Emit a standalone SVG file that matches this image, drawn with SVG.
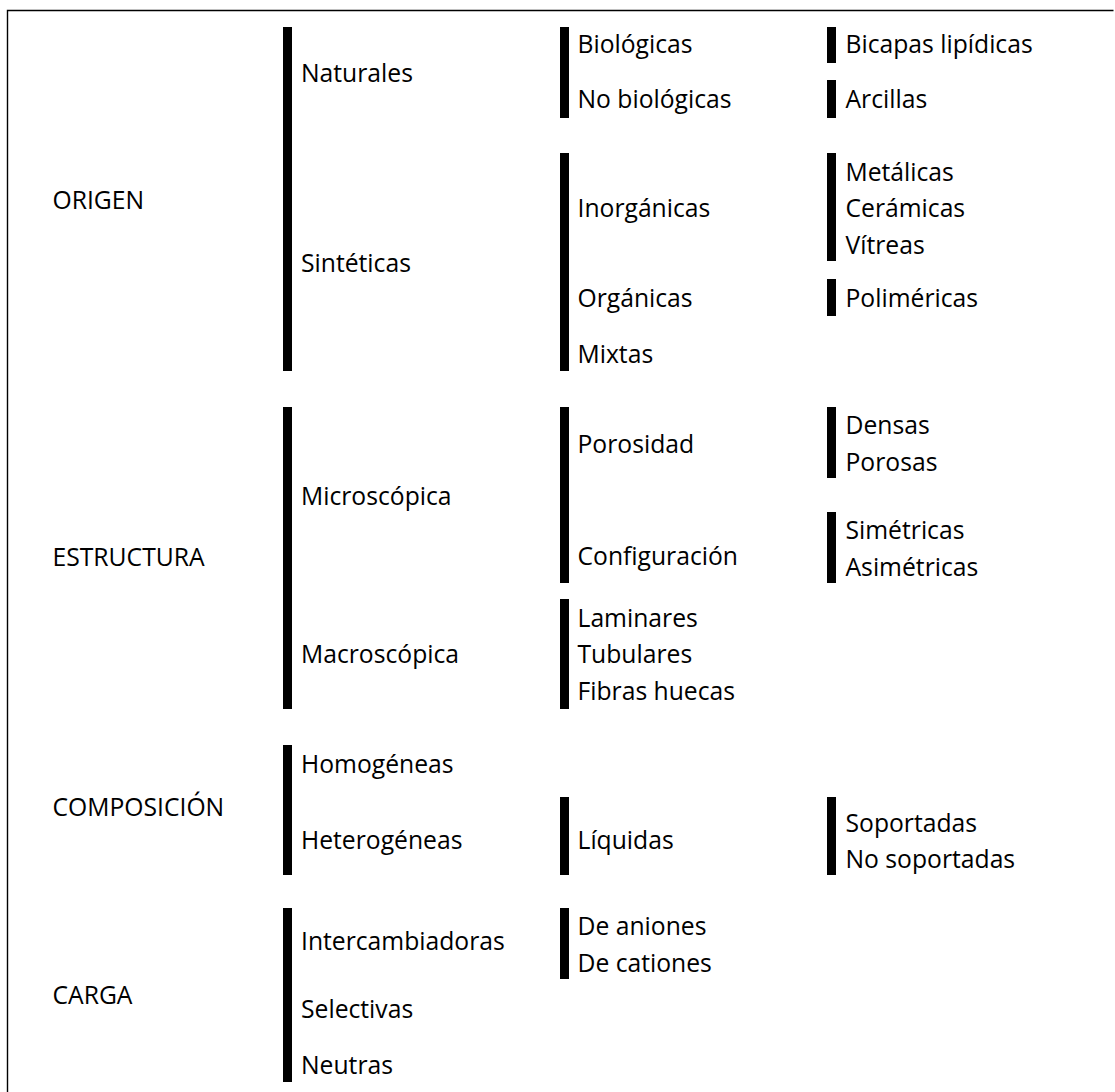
<svg xmlns="http://www.w3.org/2000/svg" width="1115" height="1092" viewBox="0 0 1115 1092">
<style>
text{font-family:"Open Sans","Noto Sans","DejaVu Sans",sans-serif;font-size:24.7px;fill:#000}
.bar{fill:#000}
.frame{fill:none;stroke:#000;stroke-width:1.4}
</style>
<rect width="1115" height="1092" fill="#fff"/>
<path class="frame" d="M7.5,1092 V10.5 H1113.5"/>
<g id="connectors">
<rect class="bar" x="283" y="27" width="9" height="344"/>
<rect class="bar" x="560" y="27" width="9" height="91"/>
<rect class="bar" x="827" y="27" width="9" height="36"/>
<rect class="bar" x="827" y="80" width="9" height="38"/>
<rect class="bar" x="560" y="153" width="9" height="218"/>
<rect class="bar" x="827" y="153" width="9" height="108"/>
<rect class="bar" x="827" y="279" width="9" height="37"/>
<rect class="bar" x="283" y="407" width="9" height="302"/>
<rect class="bar" x="560" y="407" width="9" height="176"/>
<rect class="bar" x="827" y="407" width="9" height="71"/>
<rect class="bar" x="827" y="512" width="9" height="71"/>
<rect class="bar" x="560" y="599" width="9" height="110"/>
<rect class="bar" x="283" y="745" width="9" height="130"/>
<rect class="bar" x="560" y="797" width="9" height="78"/>
<rect class="bar" x="827" y="797" width="9" height="78"/>
<rect class="bar" x="283" y="908" width="9" height="174"/>
<rect class="bar" x="560" y="908" width="9" height="71"/>
</g>
<g id="origen"><text x="52.5" y="209.3">ORIGEN</text></g>
<g id="naturales"><text x="301" y="81.7">Naturales</text></g>
<g id="biologicas"><text x="577.5" y="53.3">Biológicas</text></g>
<g id="nobiologicas"><text x="577.5" y="108.3">No biológicas</text></g>
<g id="bicapas"><text x="845.5" y="53.3">Bicapas lipídicas</text></g>
<g id="arcillas"><text x="845.5" y="108.3">Arcillas</text></g>
<g id="sinteticas"><text x="301" y="271.5">Sintéticas</text></g>
<g id="inorganicas"><text x="577.5" y="216.7">Inorgánicas</text></g>
<g id="metalicas"><text x="845.5" y="180.7">Metálicas</text></g>
<g id="ceramicas"><text x="845.5" y="217.3">Cerámicas</text></g>
<g id="vitreas"><text x="845.5" y="253.7">Vítreas</text></g>
<g id="organicas"><text x="577.5" y="306.7">Orgánicas</text></g>
<g id="polimericas"><text x="845.5" y="306.7">Poliméricas</text></g>
<g id="mixtas"><text x="577.5" y="362.7">Mixtas</text></g>
<g id="estructura"><text x="52.5" y="566">ESTRUCTURA</text></g>
<g id="microscopica"><text x="301" y="505">Microscópica</text></g>
<g id="porosidad"><text x="577.5" y="453.3">Porosidad</text></g>
<g id="densas"><text x="845.5" y="434.3">Densas</text></g>
<g id="porosas"><text x="845.5" y="471">Porosas</text></g>
<g id="configuracion"><text x="577.5" y="565">Configuración</text></g>
<g id="simetricas"><text x="845.5" y="539.4">Simétricas</text></g>
<g id="asimetricas"><text x="845.5" y="576">Asimétricas</text></g>
<g id="macroscopica"><text x="301" y="663.3">Macroscópica</text></g>
<g id="laminares"><text x="577.5" y="626.7">Laminares</text></g>
<g id="tubulares"><text x="577.5" y="663.3">Tubulares</text></g>
<g id="fibras"><text x="577.5" y="700">Fibras huecas</text></g>
<g id="composicion"><text x="52.5" y="816">COMPOSICIÓN</text></g>
<g id="homogeneas"><text x="301" y="773">Homogéneas</text></g>
<g id="heterogeneas"><text x="301" y="849">Heterogéneas</text></g>
<g id="liquidas"><text x="577.5" y="849">Líquidas</text></g>
<g id="soportadas"><text x="845.5" y="831.5">Soportadas</text></g>
<g id="nosoportadas"><text x="845.5" y="867.5">No soportadas</text></g>
<g id="carga"><text x="52.5" y="1004">CARGA</text></g>
<g id="intercambiadoras"><text x="301" y="950">Intercambiadoras</text></g>
<g id="aniones"><text x="577.5" y="935">De aniones</text></g>
<g id="cationes"><text x="577.5" y="971.5">De cationes</text></g>
<g id="selectivas"><text x="301" y="1018">Selectivas</text></g>
<g id="neutras"><text x="301" y="1074">Neutras</text></g>
</svg>
